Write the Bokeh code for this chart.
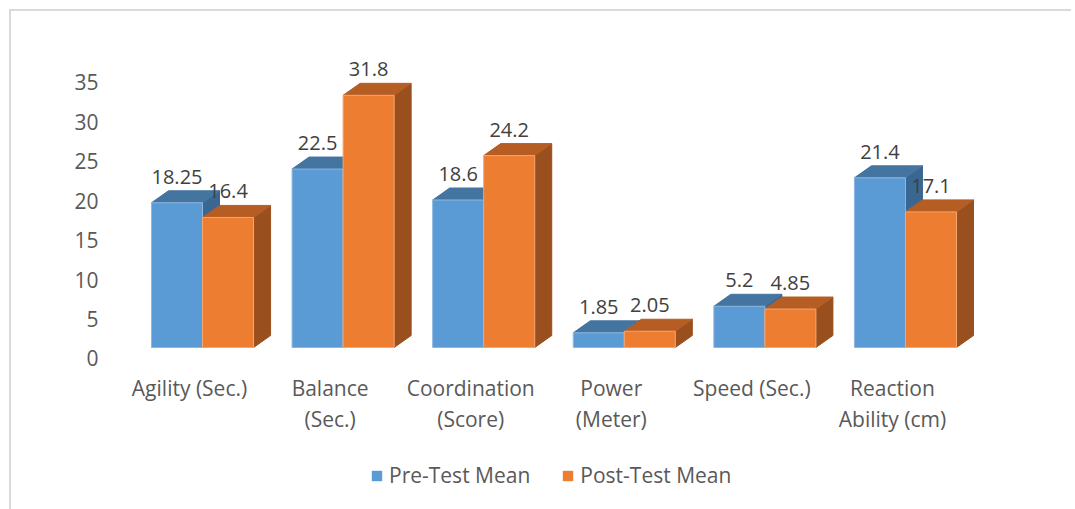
import numpy as np
from bokeh.plotting import figure
from bokeh.layouts import column
from bokeh.models import Range1d, LinearAxis, FixedTicker, Legend, LegendItem, ColumnDataSource
from bokeh.embed import file_html
from bokeh.resources import INLINE
from bokeh.core.properties import value

# ---------------- data ----------------
categories = ["Agility (Sec.)", "Balance\n(Sec.)", "Coordination\n(Score)",
              "Power\n(Meter)", "Speed (Sec.)", "Reaction\nAbility (cm)"]
pre_test = [18.25, 22.5, 18.6, 1.85, 5.2, 21.4]
post_test = [16.4, 31.8, 24.2, 2.05, 4.85, 17.1]
pre_labels = ["18.25", "22.5", "18.6", "1.85", "5.2", "21.4"]
post_labels = ["16.4", "31.8", "24.2", "2.05", "4.85", "17.1"]
y_ticks = [0, 5, 10, 15, 20, 25, 30, 35]
series_names = ["Pre-Test Mean", "Post-Test Mean"]

# ---------------- styling / geometry ----------------
FONT = "Open Sans"
PX_X = 140.6          # px per category
PX_Y = 7.93           # px per value unit (bars)
SHIFT = 0.0925        # front faces shifted right of label centre
BW = 0.363            # bar width (category units)
DX = 17 / PX_X        # 3-D depth offset (x)
DY = 12 / PX_Y        # 3-D depth offset (y)

colors = {
    0: dict(front="#5B9BD5", top="#4474A0", side="#3A6792", edge="#8DB7E2"),
    1: dict(front="#ED7D31", top="#B65D24", side="#9A4F1E", edge="#F4A672"),
}

p = figure(width=1060, height=430,
           x_range=Range1d(-0.562, 6.245), y_range=Range1d(-2.9, 39.975),
           output_backend="svg", toolbar_location=None,
           x_axis_location=None, y_axis_location=None,
           min_border_left=99, min_border_right=4,
           min_border_top=19, min_border_bottom=71)
p.grid.visible = False
p.outline_line_color = None
p.background_fill_color = "white"
p.border_fill_color = "white"

p.extra_y_ranges = {"axis": Range1d(-1.522, 41.592)}

front_renderers = []
for s, vals in enumerate([pre_test, post_test]):
    fx, fy, tx, ty, sx, sy = [], [], [], [], [], []
    for i, v in enumerate(vals):
        l = i + SHIFT - BW + s * BW
        r = l + BW
        fx.append([l, r, r, l]); fy.append([0, 0, v, v])
        tx.append([l, r, r + DX, l + DX]); ty.append([v, v, v + DY, v + DY])
        sx.append([r, r + DX, r + DX, r]); sy.append([0, DY, v + DY, v])
    c = colors[s]
    p.patches(sx, sy, fill_color=c["side"], line_color=c["side"], line_width=1)
    p.patches(tx, ty, fill_color=c["top"], line_color=c["top"], line_width=1)
    fr = p.patches(fx, fy, fill_color=c["front"], line_color=c["edge"], line_width=1)
    front_renderers.append(fr)

# data labels
for s, (vals, labs) in enumerate([(pre_test, pre_labels), (post_test, post_labels)]):
    src = ColumnDataSource(dict(
        x=[i + SHIFT - BW / 2 + s * BW for i in range(len(vals))],
        y=[v + DY for v in vals],
        t=labs))
    p.text(x="x", y="y", text="t", source=src, text_align="center",
           text_baseline="bottom", text_font=value(FONT), text_font_size="20px",
           text_color="#404040", y_offset=-7)

# y axis
yax = LinearAxis(y_range_name="axis", ticker=FixedTicker(ticks=y_ticks))
yax.axis_line_color = None
yax.major_tick_line_color = None
yax.minor_tick_line_color = None
yax.major_tick_out = 0
yax.major_label_standoff = 12
yax.major_label_text_font = FONT
yax.major_label_text_font_size = "21px"
yax.major_label_text_color = "#595959"
p.add_layout(yax, "left")

# x axis: two stacked axes, one per label line
line1 = [c.split("\n")[0] for c in categories]
line2 = [c.split("\n")[1] if "\n" in c else "" for c in categories]
for k, (lines, standoff) in enumerate([(line1, 3), (line2, 0)]):
    xax = LinearAxis(ticker=FixedTicker(ticks=list(range(len(categories)))))
    xax.major_label_overrides = {i: t for i, t in enumerate(lines)}
    xax.axis_line_color = None
    xax.major_tick_line_color = None
    xax.minor_tick_line_color = None
    xax.major_tick_out = 0
    xax.major_tick_in = 0
    xax.major_label_standoff = standoff
    xax.major_label_text_font = FONT
    xax.major_label_text_font_size = "21px"
    xax.major_label_text_color = "#595959"
    p.add_layout(xax, "below")

# legend strip (separate small figure below the chart; its frame aligns with the chart's)
p2 = figure(width=1060, height=68, x_range=Range1d(0, 1), y_range=Range1d(0, 1),
            output_backend="svg", toolbar_location=None,
            x_axis_location=None, y_axis_location=None, min_border=0)
p2.grid.visible = False
p2.outline_line_color = None
leg_r = [p2.patches(xs=[np.array([np.nan, np.nan, np.nan])],
                    ys=[np.array([np.nan, np.nan, np.nan])],
                    fill_color=colors[s]["front"], line_color=None)
         for s in range(2)]
legend = Legend(items=[LegendItem(label=series_names[s], renderers=[leg_r[s]]) for s in range(2)],
                orientation="horizontal", location=(260, 20))
legend.label_text_font = FONT
legend.label_text_font_size = "21px"
legend.label_text_color = "#595959"
legend.glyph_width = 13
legend.glyph_height = 13
legend.label_standoff = 6
legend.spacing = 31
legend.padding = 0
legend.margin = 0
legend.border_line_color = None
legend.background_fill_alpha = 0
p2.add_layout(legend, "center")

layout = column(p, p2, spacing=0,
                styles={"border-left": "2px solid #d9d9d9", "border-top": "2px solid #d9d9d9",
                        "margin-left": "9px", "margin-top": "9px"})

open("out.html", "w").write(file_html(layout, INLINE))
